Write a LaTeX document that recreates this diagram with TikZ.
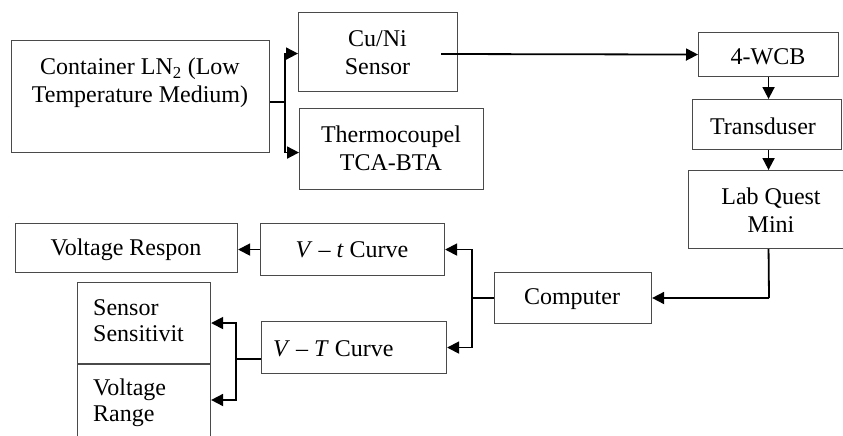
\documentclass[tikz,border=0pt]{standalone}
\usepackage{fontspec}
\setmainfont{Liberation Serif}
\usetikzlibrary{arrows.meta,calc}
\definecolor{boxgray}{HTML}{4A4A4A}
\begin{document}
\begin{tikzpicture}[x=1pt,y=-1pt,
  box/.style={draw=boxgray, line width=1.1pt, inner sep=0pt, anchor=north west},
  txt/.style={inner sep=0pt, align=center, font=\fontsize{24}{28}\selectfont},
  ltxt/.style={inner sep=0pt, align=left, anchor=north west, font=\fontsize{24}{26}\selectfont},
  conn/.style={draw=black, line width=1.8pt, -{Triangle[length=12pt,width=12pt]}},
  line/.style={draw=black, line width=1.8pt}]
\useasboundingbox (0,0) rectangle (843,436);
% boxes
\node[box, minimum width=258pt, minimum height=112pt] (cont) at (11,40) {};
\node[box, minimum width=159pt, minimum height=79pt] (cuni) at (298,12) {};
\node[box, minimum width=184pt, minimum height=81pt] (thermo) at (299,108) {};
\node[box, minimum width=140pt, minimum height=44pt] (wcb) at (698,32) {};
\node[box, minimum width=149pt, minimum height=50pt] (trans) at (692,99) {};
\node[box, minimum width=166pt, minimum height=78pt] (lab) at (688,170) {};
\node[box, minimum width=157pt, minimum height=51pt] (comp) at (494,272) {};
\node[box, minimum width=184pt, minimum height=52pt] (vt) at (260,223) {};
\node[box, minimum width=222pt, minimum height=49pt] (vr) at (15,223) {};
\node[box, minimum width=185pt, minimum height=52pt] (vT) at (261,321) {};
\node[box, minimum width=133pt, minimum height=81pt] (sens) at (77,282) {};
\node[box, minimum width=133pt, minimum height=80pt] (vrange) at (77,364) {};
% texts
\node[txt] (cont-t) at (140,83) {Container LN\textsubscript{2} (Low\\Temperature Medium)};
\node[txt] (cuni-t) at (377.5,53) {Cu/Ni\\Sensor};
\node[txt] (thermo-t) at (391,148) {Thermocoupel\\TCA-BTA};
\node[txt] (wcb-t) at (768,57) {4-WCB};
\node[txt] (trans-t) at (763,126) {Transduser};
\node[txt] (lab-t) at (771,210) {Lab Quest\\Mini};
\node[txt] (comp-t) at (572,299) {Computer};
\node[txt] (vt-t) at (352,250) {\textit{V} – \textit{t} Curve};
\node[txt] (vr-t) at (126,250) {Voltage Respon};
\node[txt, anchor=west] (vT-t) at (273,349) {\textit{V} – \textit{T} Curve};
\node[ltxt] (sens-t) at (93,299) {Sensor\\Sensitivit};
\node[ltxt] (vrange-t) at (93,379) {Voltage\\Range};
% connectors
\coordinate (s1) at (285,102);
\draw[line] (cont.east |- s1) -- (s1);
\draw[conn] (s1) |- ([yshift=-1.5pt]cuni.west);
\draw[conn] (s1) |- ([yshift=-3.5pt]thermo.west);
\coordinate (c1) at (441,54);
\draw[conn] (c1) -- (wcb.west);
\draw[conn] (wcb.south) -- (wcb.south |- trans.north);
\draw[conn] (wcb.south |- trans.south) -- (wcb.south |- lab.north);
\coordinate (c2) at (769,298);
\draw[line] (wcb.south |- lab.south) -- (c2);
\draw[conn] (c2) -- (comp.east |- c2);
\coordinate (s2) at (472,298);
\draw[line] (comp.west |- s2) -- (s2);
\draw[conn] (s2) |- (vt.east);
\draw[conn] (s2) |- (vT.east);
\draw[conn] (vt.west) -- (vr.east |- vt.west);
\coordinate (s3) at (236,359);
\draw[line] (vT.west |- s3) -- (s3);
\draw[conn] (s3) |- (sens.east);
\draw[conn] (s3) |- ([yshift=-36pt]vrange.north east);
\end{tikzpicture}
\end{document}
